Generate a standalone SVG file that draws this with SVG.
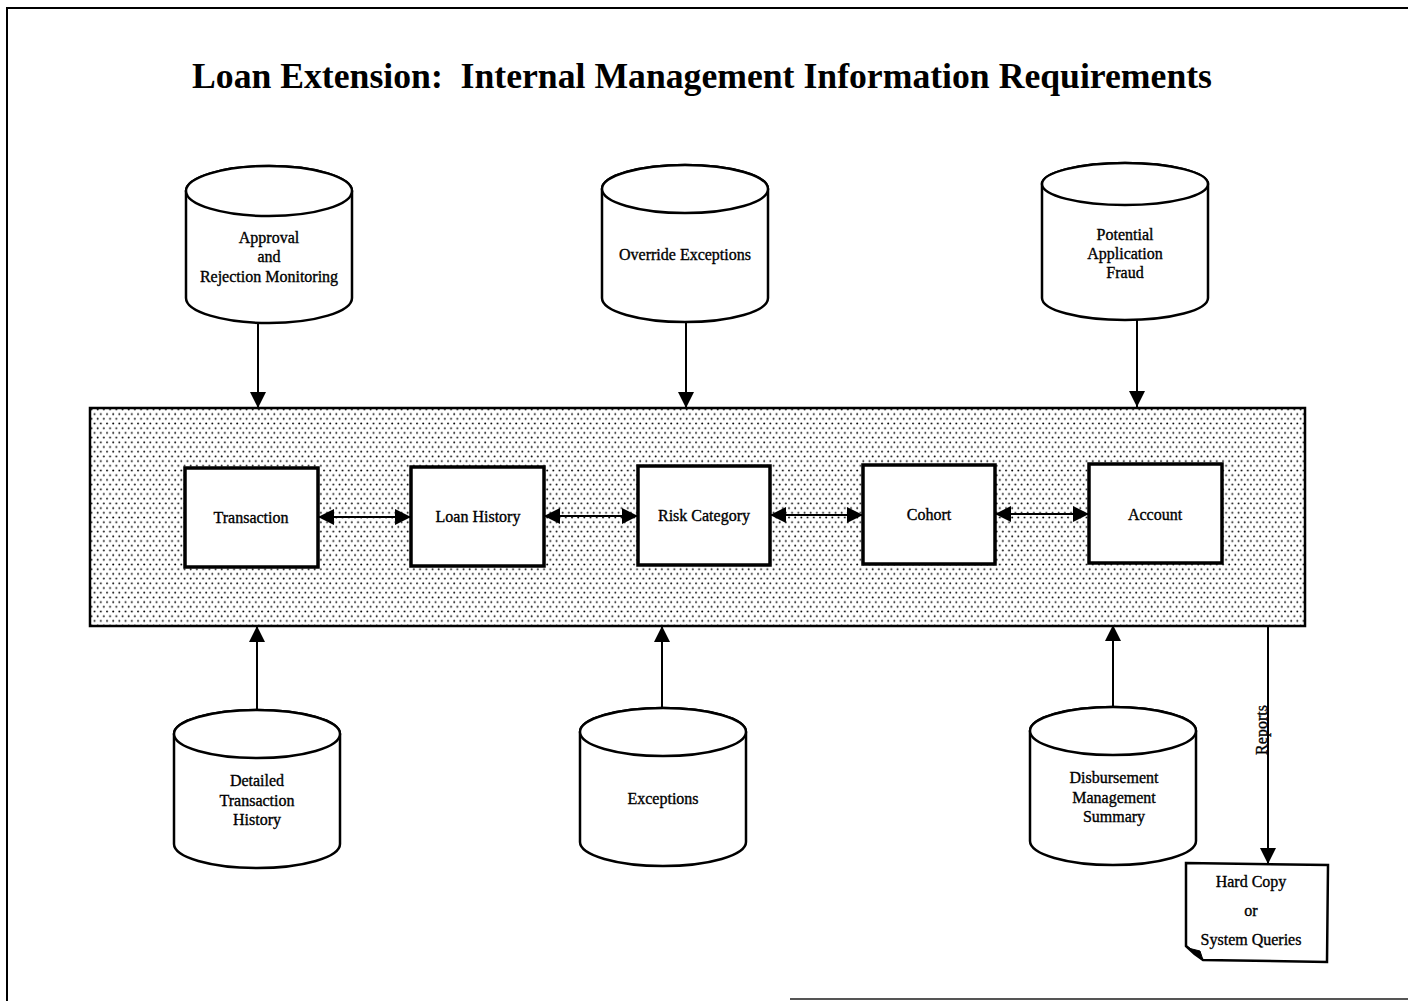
<svg xmlns="http://www.w3.org/2000/svg" width="1408" height="1001" viewBox="0 0 1408 1001">
<style>
  .lbl { font-family: "Liberation Serif", "Times New Roman", serif; font-size: 16px; fill: #000; stroke: #000; stroke-width: 0.35; text-anchor: middle; }
  .title { font-family: "Liberation Serif", "Times New Roman", serif; font-size: 35.5px; font-weight: bold; fill: #000; white-space: pre; }
  .cyl { fill: #fff; stroke: #000; stroke-width: 2.5; }
  .box { fill: #fff; stroke: #000; stroke-width: 3.5; }
  .conn { stroke: #000; stroke-width: 2; fill: none; }
  .frame { stroke: #000; stroke-width: 2; fill: none; }
</style>
<defs>
  <pattern id="dots" x="90" y="408" width="6.2" height="9.4" patternUnits="userSpaceOnUse">
    <rect width="6.2" height="9.4" fill="#fff"/>
    <circle cx="1.5" cy="1.5" r="0.95" fill="#000"/>
    <circle cx="4.6" cy="6.2" r="0.95" fill="#000"/>
  </pattern>
  <marker id="arr" viewBox="0 0 16 16" refX="16" refY="8" markerWidth="16" markerHeight="16" markerUnits="userSpaceOnUse" orient="auto-start-reverse">
    <path d="M0,0 L16,8 L0,16 Z" fill="#000"/>
  </marker>
</defs>
<rect width="1408" height="1001" fill="#fff"/>

<!-- page frame -->
<g id="frame">
  <path class="frame" d="M7,1001 L7,8 L1408,8"/>
  <path d="M790,999 L1408,999" stroke="#555" stroke-width="2"/>
</g>

<text id="title" class="title" x="192" y="88" textLength="1020" lengthAdjust="spacingAndGlyphs">Loan Extension:  Internal Management Information Requirements</text>

<!-- central band -->
<g id="band">
  <rect x="90" y="408" width="1215" height="218" fill="url(#dots)" stroke="#000" stroke-width="2.5"/>
</g>

<!-- connectors -->
<g id="connectors">
  <line class="conn" x1="258" y1="324" x2="258" y2="408" marker-end="url(#arr)"/>
  <line class="conn" x1="686" y1="322" x2="686" y2="408" marker-end="url(#arr)"/>
  <line class="conn" x1="1137" y1="319" x2="1137" y2="407" marker-end="url(#arr)"/>
  <line class="conn" x1="257" y1="710" x2="257" y2="626" marker-end="url(#arr)"/>
  <line class="conn" x1="662" y1="708" x2="662" y2="626" marker-end="url(#arr)"/>
  <line class="conn" x1="1113" y1="707" x2="1113" y2="625" marker-end="url(#arr)"/>
  <line class="conn" x1="1268" y1="625" x2="1268" y2="864" marker-end="url(#arr)"/>
  <line class="conn" x1="318" y1="517" x2="411" y2="517" marker-start="url(#arr)" marker-end="url(#arr)"/>
  <line class="conn" x1="544" y1="516" x2="638" y2="516" marker-start="url(#arr)" marker-end="url(#arr)"/>
  <line class="conn" x1="770" y1="515" x2="863" y2="515" marker-start="url(#arr)" marker-end="url(#arr)"/>
  <line class="conn" x1="995" y1="514" x2="1089" y2="514" marker-start="url(#arr)" marker-end="url(#arr)"/>
  <text class="lbl" x="0" y="0" transform="translate(1267,730) rotate(-90)">Reports</text>
</g>

<!-- top cylinders -->
<g id="approval">
  <path class="cyl" d="M186,191 A83,25 0 0 1 352,191 L352,298 A83,25 0 0 1 186,298 Z"/>
  <ellipse class="cyl" cx="269" cy="191" rx="83" ry="25"/>
  <text class="lbl" x="269" y="243">Approval</text>
  <text class="lbl" x="269" y="262">and</text>
  <text class="lbl" x="269" y="282">Rejection Monitoring</text>
</g>
<g id="override">
  <path class="cyl" d="M602,189 A83,24 0 0 1 768,189 L768,298 A83,24 0 0 1 602,298 Z"/>
  <ellipse class="cyl" cx="685" cy="189" rx="83" ry="24"/>
  <text class="lbl" x="685" y="260">Override Exceptions</text>
</g>
<g id="fraud">
  <path class="cyl" d="M1042,184 A83,21 0 0 1 1208,184 L1208,298 A83,22 0 0 1 1042,298 Z"/>
  <ellipse class="cyl" cx="1125" cy="184" rx="83" ry="21"/>
  <text class="lbl" x="1125" y="240">Potential</text>
  <text class="lbl" x="1125" y="259">Application</text>
  <text class="lbl" x="1125" y="278">Fraud</text>
</g>

<!-- entity boxes -->
<g id="transaction">
  <rect class="box" x="185" y="468" width="133" height="99"/>
  <text class="lbl" x="251" y="523">Transaction</text>
</g>
<g id="loan-history">
  <rect class="box" x="411" y="467" width="133" height="99"/>
  <text class="lbl" x="478" y="522">Loan History</text>
</g>
<g id="risk-category">
  <rect class="box" x="638" y="466" width="132" height="99"/>
  <text class="lbl" x="704" y="521">Risk Category</text>
</g>
<g id="cohort">
  <rect class="box" x="863" y="465" width="132" height="99"/>
  <text class="lbl" x="929" y="520">Cohort</text>
</g>
<g id="account">
  <rect class="box" x="1089" y="464" width="133" height="99"/>
  <text class="lbl" x="1155" y="520">Account</text>
</g>

<!-- bottom cylinders -->
<g id="detailed">
  <path class="cyl" d="M174,734 A83,24 0 0 1 340,734 L340,844 A83,24 0 0 1 174,844 Z"/>
  <ellipse class="cyl" cx="257" cy="734" rx="83" ry="24"/>
  <text class="lbl" x="257" y="786">Detailed</text>
  <text class="lbl" x="257" y="806">Transaction</text>
  <text class="lbl" x="257" y="825">History</text>
</g>
<g id="exceptions">
  <path class="cyl" d="M580,732 A83,24 0 0 1 746,732 L746,842 A83,24 0 0 1 580,842 Z"/>
  <ellipse class="cyl" cx="663" cy="732" rx="83" ry="24"/>
  <text class="lbl" x="663" y="804">Exceptions</text>
</g>
<g id="disbursement">
  <path class="cyl" d="M1030,731 A83,24 0 0 1 1196,731 L1196,841 A83,24 0 0 1 1030,841 Z"/>
  <ellipse class="cyl" cx="1113" cy="731" rx="83" ry="24"/>
  <text class="lbl" x="1114" y="783">Disbursement</text>
  <text class="lbl" x="1114" y="803">Management</text>
  <text class="lbl" x="1114" y="822">Summary</text>
</g>

<!-- document -->
<g id="hard-copy">
  <path d="M1186,863 L1328,865 L1327,962 L1203,960 Q1194,954 1186,946 Z" fill="#fff" stroke="#000" stroke-width="2.5"/>
  <path d="M1186,946 Q1193,949 1203,960 Q1194,952 1186,946 Z M1188,948 L1200,951 L1203,960 Z" fill="#000" stroke="#000" stroke-width="1"/>
  <text class="lbl" x="1251" y="887">Hard Copy</text>
  <text class="lbl" x="1251" y="916">or</text>
  <text class="lbl" x="1251" y="945">System Queries</text>
</g>
</svg>
